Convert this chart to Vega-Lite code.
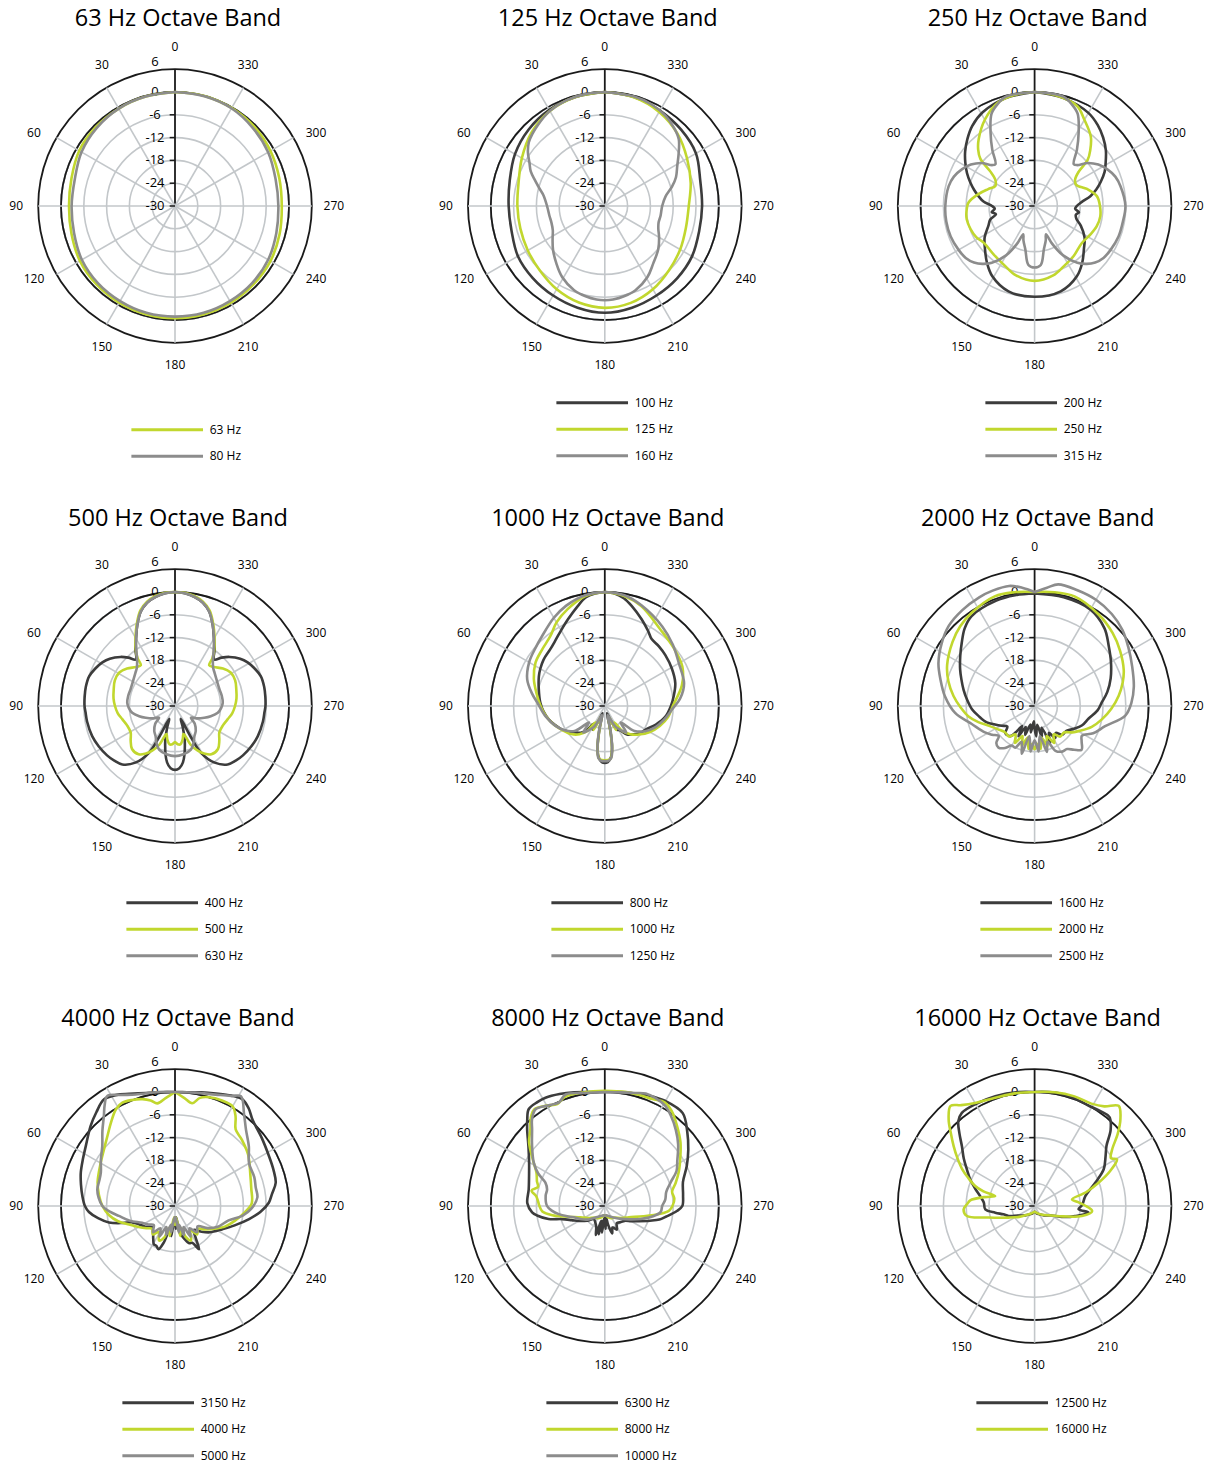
{
"$schema": "https://vega.github.io/schema/vega-lite/v6.json",
"background": "white",
"padding": {"left": 4, "top": 7, "right": 2, "bottom": 2},
"columns": 3,
"spacing": {"row": 158, "column": 87.8},
"bounds": "flush",
"resolve": {"scale": {"color": "independent", "x": "independent", "y": "independent"}},
"config": {
  "view": {"stroke": null},
  "title": {"font": "Open Sans", "fontSize": 23.5, "fontWeight": "normal", "color": "#000", "anchor": "middle", "frame": "group", "baseline": "alphabetic", "offset": 4.3, "dx": 3},
  "legend": {"orient": "none", "direction": "vertical", "symbolType": "stroke", "symbolSize": 5130, "symbolStrokeWidth": 3, "labelFont": "Open Sans", "labelFontSize": 12, "labelColor": "#000", "labelOffset": 5, "rowPadding": 12.5, "clipHeight": 14}
},
"datasets": {
  "lv": [{"v":-30,"t":"-30"},{"v":-24,"t":"-24"},{"v":-18,"t":"-18"},{"v":-12,"t":"-12"},{"v":-6,"t":"-6"},{"v":0,"t":"0"},{"v":6,"t":"6"}],
  "angles": [{"a":0,"t":"0"},{"a":30,"t":"30"},{"a":60,"t":"60"},{"a":90,"t":"90"},{"a":120,"t":"120"},{"a":150,"t":"150"},{"a":180,"t":"180"},{"a":210,"t":"210"},{"a":240,"t":"240"},{"a":270,"t":"270"},{"a":300,"t":"300"},{"a":330,"t":"330"}],
  "curves": [
    {"p":"63","s":"63 Hz","a":[0,15,30,45,60,75,90,105,120,135,150,165,180,195,210,225,240,255,270,285,300,315,330,345,360],"d":[0,-0.2,-0.4,-0.6,-0.9,-1.8,-2.1,-1.8,-1.1,-0.8,-0.6,-0.5,-0.5,-0.5,-0.6,-0.8,-1.0,-1.5,-1.9,-1.6,-1.0,-0.5,-0.2,0,0]},
    {"p":"63","s":"80 Hz","a":[0,15,30,45,60,75,90,105,120,135,150,165,180,195,210,225,240,255,270,285,300,315,330,345,360],"d":[0,-0.2,-0.4,-0.9,-1.6,-2.7,-2.8,-2.5,-1.7,-1.3,-1.1,-0.9,-0.9,-0.9,-1.1,-1.3,-1.7,-2.4,-2.8,-2.6,-1.7,-1.0,-0.3,-0.1,0]},

    {"p":"125","s":"100 Hz","a":[0,15,30,45,60,75,90,105,120,135,150,165,180,195,210,225,240,255,270,285,300,315,330,345,360],"d":[0,-0.3,-0.8,-1.6,-2.7,-4.1,-4.7,-4.6,-3.6,-3.2,-2.8,-2.3,-1.9,-2.3,-2.8,-3.1,-3.5,-4.3,-4.4,-4.0,-2.3,-1.6,-1.0,-0.3,0]},
    {"p":"125","s":"125 Hz","a":[0,15,30,45,60,75,90,105,120,135,150,165,180,195,210,225,240,255,270,285,300,315,330,345,360],"d":[0,-0.3,-1.1,-2.7,-4.8,-6.5,-7.0,-7.0,-6.6,-5.9,-4.7,-3.7,-3.2,-3.6,-4.7,-6.1,-7.1,-7.9,-7.9,-6.6,-5.0,-3.0,-1.4,-0.4,0]},
    {"p":"125","s":"160 Hz","a":[0,10,20,30,40,45,50,55,60,65,70,75,80,90,100,107,115,122,130,140,149,160,168,175,180,185,192,200,211,220,231,240,247,253,260,270,279,286,292,299,305,312,318,326,335,345,360],"d":[0,-0.1,-0.4,-1.1,-2.4,-3.1,-3.9,-5.3,-7.1,-8.5,-10.5,-12.2,-13.6,-14.8,-15.2,-15.3,-14.9,-13.8,-12.2,-10.2,-8.2,-6.4,-5.7,-5.3,-5.2,-5.3,-5.7,-6.4,-8.2,-10.2,-11.9,-13.5,-14.7,-15.2,-15.1,-14.9,-13.8,-11.6,-9.8,-8.2,-6.3,-3.8,-2.6,-1.4,-0.6,-0.2,0]},

    {"p":"250","s":"200 Hz","a":[0,15,29,38,45,52,58,64,70,75,80,85,90,94,98,102,107,113,122,131,140,149,163,180,197,211,220,229,238,247,253,258,262,266,270,275,280,285,290,296,301,308,315,322,330,345,360],"d":[0,-0.6,-1.8,-3.3,-5.0,-6.8,-8.5,-10.2,-12,-13.5,-15,-16.5,-18.8,-19.5,-18.6,-19.6,-17.8,-16.8,-14.5,-12.7,-10.5,-8.4,-6.5,-6.1,-6.5,-8.4,-10.5,-12.8,-14.5,-16.8,-18.5,-18.9,-18.2,-19.3,-18.9,-17.5,-15.1,-13.2,-11.5,-9.5,-8.2,-6.2,-4.5,-3.0,-1.7,-0.6,0]},
    {"p":"250","s":"250 Hz","a":[0,10,20,30,40,45,49,52,56,63,70,78,87,95,101,110,118,126,140,154,165,180,195,206,218,232,243,252,261,270,279,288,297,303,308,311,315,321,330,337,350,360],"d":[0,-0.3,-1.2,-3.8,-7.1,-9.0,-11.1,-15.2,-17.5,-18.4,-17.0,-14.9,-12.6,-12.0,-11.8,-12.1,-12.6,-13.5,-13.3,-12.4,-11.1,-10.3,-11.1,-12.4,-13.3,-14.2,-13.5,-12.8,-12.5,-12.8,-13.4,-15.5,-17.7,-17.3,-15.2,-11.5,-9.3,-6.5,-3.8,-1.4,-0.3,0]},
    {"p":"250","s":"315 Hz","a":[0,10,15,20,25,31,37,43,46,51,57,63,70,77,90,100,110,120,127,133,138,143,150,155,158,162,168,174,180,186,192,198,202,205,210,217,222,227,233,240,250,260,270,283,290,297,303,309,314,317,323,329,335,340,345,350,360],"d":[0,-0.1,-0.3,-1.5,-3.2,-7.5,-11.5,-14.9,-14.5,-12,-10,-8.6,-7.4,-6.8,-6.5,-6.4,-6.5,-6.9,-7.3,-8.2,-9.5,-11.3,-15,-19,-22,-20.5,-18.3,-14.4,-13.8,-14.4,-18.3,-20.5,-22,-19,-15,-11.3,-9.5,-8.2,-7.3,-6.9,-6.5,-6.4,-6.1,-6.8,-7.4,-8.6,-10,-12,-14.5,-14.9,-11.5,-7.5,-3.2,-1.5,-0.3,-0.1,0]},

    {"p":"500","s":"400 Hz","a":[0,5,10,15,20,25,30,35,40,44,48,54,59,65,71,78,84,90,94,100,110,118,126,132,138,145,151,153,156,160,165,172,176,180,184,188,195,200,204,207,209,215,222,228,234,242,250,260,266,270,276,282,289,295,301,306,312,316,320,325,330,335,340,345,350,355,360],"d":[0,-0.2,-0.8,-1.8,-3.6,-6.5,-9.5,-11.8,-14,-12.3,-10.7,-8.8,-7.7,-6.8,-6.1,-6.0,-6.1,-6.2,-6.4,-6.5,-6.8,-7.3,-7.9,-8.5,-9.3,-11.8,-16,-21,-26.3,-24,-20,-15,-13.6,-13.2,-13.6,-15,-20,-24,-26.3,-21,-16,-11.8,-9.3,-8.5,-7.9,-7.3,-6.8,-6.5,-6.4,-6.2,-6.1,-6.0,-6.1,-6.8,-7.7,-8.8,-10.7,-12.3,-14,-11.8,-9.5,-6.5,-3.6,-1.8,-0.8,-0.2,0]},
    {"p":"500","s":"500 Hz","a":[0,5,10,15,20,25,30,35,38,40,45,52,59,67,75,83,90,97,104,112,121,128,135,143,148,153,158,163,167,172,176,180,184,188,193,197,202,207,212,217,225,232,239,248,256,263,270,277,285,293,301,308,315,320,322,325,330,335,340,345,350,355,360],"d":[0,-0.1,-0.6,-1.6,-3.3,-6.2,-9.2,-12,-14,-16,-15.5,-14,-12.9,-12.8,-13.3,-13.7,-14.2,-14.8,-15.7,-16.4,-16.4,-15.2,-14,-14.1,-15.2,-16.8,-19,-22.3,-21,-19.8,-19.9,-20.5,-19.9,-19.8,-21,-22.3,-19,-16.8,-15.2,-14.1,-14,-15.2,-16.4,-16.4,-15.7,-14.8,-14.2,-13.7,-13.3,-12.8,-12.9,-14,-15.5,-16,-14,-12,-9.2,-6.2,-3.3,-1.6,-0.6,-0.1,0]},
    {"p":"500","s":"630 Hz","a":[0,5,10,15,20,25,30,35,40,45,50,60,69,78,86,92,99,106,112,120,126,132,140,147,154,160,170,180,190,200,206,213,220,228,234,240,248,254,261,268,274,282,291,300,310,315,320,325,330,335,340,345,350,355,360],"d":[0,-0.2,-0.8,-1.8,-3.6,-6.5,-9.5,-12.3,-14.5,-15.8,-16.4,-17.2,-17.5,-17.4,-17.4,-17.8,-18.6,-20.2,-21.7,-23.5,-24.8,-23,-21.5,-20.6,-19,-17.8,-17.1,-16.8,-17.1,-17.8,-19,-20.6,-21.5,-23,-24.8,-23.5,-21.7,-20.2,-18.6,-17.8,-17.4,-17.4,-17.5,-17.2,-16.4,-15.8,-14.5,-12.3,-9.5,-6.5,-3.6,-1.8,-0.8,-0.2,0]},

    {"p":"1000","s":"800 Hz","a":[0,5,10,15,23,30,37,44,53,60,66,75,87,95,103,111,119,126,132,138,143,148,153,158,163,167,170,173,177,180,183,187,190,193,197,202,207,212,218,224,232,240,250,260,270,278,288,299,310,318,325,330,337,345,350,355,360],"d":[0,-0.3,-1.0,-2.7,-5.2,-7.0,-8.4,-9.3,-9.8,-10.4,-11.0,-12.0,-13.0,-13.8,-14.8,-16.0,-17.2,-18.5,-19.6,-20.5,-22,-24.5,-23,-26,-28,-24,-19,-16.5,-15.2,-15.0,-15.2,-16.5,-19,-24,-28,-26,-23,-22.5,-20.5,-19.6,-18.3,-17.6,-15.7,-13.8,-12.6,-11.7,-10.5,-9.8,-9.2,-8.8,-8.5,-7.2,-5.2,-2.7,-1.2,-0.3,0]},
    {"p":"1000","s":"1000 Hz","a":[0,10,21,30,38,48,58,69,80,90,100,110,120,130,138,145,150,155,160,165,168,171,174,180,186,189,192,195,200,205,210,215,222,230,240,250,260,270,285,297,310,324,340,350,360],"d":[0,-0.6,-2.7,-4.6,-6.7,-7.8,-8.5,-10,-11.8,-13.1,-14.3,-15.7,-17.2,-18.5,-20,-22,-25,-23,-27,-26,-22,-18,-16,-15.7,-16,-18,-22,-26,-27,-23,-25,-22,-20,-18.3,-16.3,-14.6,-13.1,-12.1,-9,-7.1,-6.3,-5.1,-2.0,-0.6,0]},
    {"p":"1000","s":"1250 Hz","a":[0,10,21,30,42,50,60,71,80,87,100,112,122,130,136,141,147,153,158,163,167,170,173,177,180,183,187,190,193,197,202,207,213,219,224,230,238,247,257,267,276,286,300,312,324,340,350,360],"d":[0,-0.4,-1.7,-3.2,-5.3,-6.2,-7.0,-8.4,-10.5,-12.2,-14.2,-16,-17.8,-19.9,-24,-21,-22.5,-24,-26.5,-27.5,-23,-19,-16.2,-15.5,-15.5,-15.5,-16.2,-19,-23,-27.5,-26.5,-24,-22.5,-21,-24,-19.8,-17.5,-15.6,-14,-12.3,-10,-8.3,-7.5,-5.9,-4.2,-1.8,-0.4,0]},

    {"p":"2000","s":"1600 Hz","a":[0,10,20,35,42,49,56,64,70,77,85,93,100,109,115,121,127,133,141,145,148,152,157,162,167,172,177,180,183,188,193,198,203,208,213,218,224,232,240,248,257,266,273,281,290,300,309,318,330,345,360],"d":[-0.4,-0.4,-0.5,-1.1,-2.5,-4.6,-6.4,-8.2,-9.5,-10.8,-12.2,-13.5,-15,-16.7,-18.5,-19.9,-21,-19.5,-19.8,-22,-23.8,-21,-24,-22,-25,-23,-26,-24,-22,-25,-21.5,-24,-19.5,-22,-20,-21,-19.5,-19.4,-18,-16.5,-15.4,-13.4,-12.3,-10.5,-8.7,-6.8,-4.9,-2.5,-0.7,-0.4,-0.4]},
    {"p":"2000","s":"2000 Hz","a":[0,10,20,34,43,52,65,74,83,91,99,106,113,122,132,140,146,152,158,162,168,172,176,180,184,188,192,198,202,208,214,220,228,235,241,250,259,268,277,285,292,303,313,325,340,350,360],"d":[0,0.4,0.7,-0.4,-1.3,-2.6,-4.6,-6.4,-8.5,-10.5,-12.4,-14.6,-16.8,-18.5,-19.6,-19.5,-21,-19,-21.5,-19,-21.5,-18.6,-20,-18.6,-20,-18.6,-21.5,-19,-21.5,-19,-21,-19.5,-19.6,-17.9,-16.5,-14,-11.9,-9.8,-7.7,-6.0,-4.7,-3.2,-1.9,-0.6,0.7,0.4,0]},
    {"p":"2000","s":"2500 Hz","a":[0,6,12,20,27,37,47,56,66,74,84,95,106,118,124,130,134,139,145,150,155,160,165,170,175,180,185,190,195,200,205,211,217,222,227,233,238,245,254,264,272,281,292,302,311,320,330,340,349,354,360],"d":[0,1.3,2.3,2.3,2.1,1.6,0.9,-0.5,-2.3,-4.2,-6.3,-9,-12.8,-15.2,-16.5,-17.7,-16,-15.5,-16.5,-18,-17.9,-20,-17,-22,-18,-21,-18,-22,-17.5,-20,-17,-16,-15.8,-14.5,-13.1,-14.5,-15.3,-13,-10.7,-6,-4.5,-3.4,-2.3,-0.9,0.6,1.6,2.3,2.5,2.6,1.3,0]},

    {"p":"4000","s":"3150 Hz","a":[0,6,13,20,27,33.6,40,46.5,56,63,70.5,77,84,90,94,99,104,108,111,118,125,133,140,147,151,155,159,163,168,173,178,182,186,190,196,201,205,209,213,218,225,233,244,252,260,266,272,277,283,290,298,308,318,323,327.7,333,340,347,354,360],"d":[0,0.1,0.6,1.5,2.9,3.7,2.2,0.6,-1.7,-2.8,-3.7,-4.6,-5.5,-6.3,-7.3,-9.5,-12.1,-15.5,-18,-19.5,-20.5,-21.8,-21,-19.5,-18.5,-18.4,-17.8,-20,-24,-22,-27,-24,-27,-23,-21,-19.5,-19.3,-17,-20,-22,-20.5,-18.5,-16.1,-13.5,-10.2,-7.5,-5.3,-4.3,-2.8,-2.4,-2.0,-1.0,0.5,2.2,3.2,2.6,1.5,0.7,0.1,0]},
    {"p":"4000","s":"4000 Hz","a":[0,5,9.8,13,17,22,27,31.5,38,44,52,60,73,82,90,98,105,112,120,128,135,142,148,155,161,165,170,175,180,185,190,195,199,205,212,218,225,232,240,248,256,265,272,283,292,305,315,321.6,326,330,336,342.6,347,350.5,355,360],"d":[0,-1.5,-2.6,-1.5,-0.6,0.1,0.5,-0.2,-2.5,-4.4,-6.2,-7.4,-8.7,-9.8,-10.9,-12.5,-14.5,-17,-19,-20.5,-21.5,-20.5,-22,-20,-21.2,-24,-22,-27,-25,-27,-22,-24,-21.5,-20,-22.5,-20.5,-21.5,-20,-18,-15.7,-13.8,-11.5,-9.8,-9.4,-8.6,-6.5,-5.2,-4.3,-1.5,0.3,0.4,0,-0.8,-2.6,-1.5,0]},
    {"p":"4000","s":"5000 Hz","a":[0,8,19.4,26,31.6,35,38.3,44,50.5,58,65.8,72,78,84,90,95,100,108,117,125,132,140,147,153,158,163,168,172,177,180,183,188,192,197,202,207,213,220,228,236,244,255,262,268,276,283,290,300,309,317,323,329,333,340,350,360],"d":[0,0.3,1.1,2.5,4,2.3,0.2,-2.5,-5.2,-7,-8.6,-9.0,-9.1,-9.8,-10.9,-12.8,-15,-17.5,-20.3,-21.5,-22.5,-21,-23,-21,-24,-22,-25,-23,-27,-26,-27,-23,-25,-22,-24,-21,-23,-21,-22,-19.6,-17.5,-15.4,-12,-9.9,-8.2,-8.2,-7.8,-7.5,-5,-2.6,0.2,3.7,2.5,1.2,0.3,0]},

    {"p":"8000","s":"6300 Hz","a":[0,8,15,22,28.7,33,38.2,42,45.4,52,60,68,77.6,88,95,98,103,107,113,120,130,140,150,158,163,166,168,171,174,178,182,186,190,195,200,207,215,225,233,240,246,252,256,260,266,270,278,287,296,304,312,320,330,338,346,354,360],"d":[0,0.3,1.0,1.8,2.5,2.6,2.4,0.5,-1.3,-4.5,-7.0,-8.5,-9.5,-9.6,-10.8,-12,-14.8,-18.2,-20.5,-22.1,-24,-25.5,-25,-24,-22,-26,-22.4,-26,-23,-27,-24,-27,-25,-22.5,-24,-23,-24.5,-24,-23.5,-22,-20.2,-17.5,-15.2,-13.7,-11,-9.6,-9.2,-8.5,-6,-3.5,-0.8,1.9,1.9,1.3,0.6,0.2,0]},
    {"p":"8000","s":"8000 Hz","a":[0,10,20,25,30,36,40,44,50,58,64,70,74,78,82,86,90,95,100,106,115,125,140,155,165,175,185,195,205,220,235,245,255,262,266,270,276,282,288,295,302,310,318,325,330,336,343,350,360],"d":[0.3,0.4,0.6,-0.4,0.5,1.5,0.3,-1.8,-4.0,-7.8,-10,-11,-11.7,-10.3,-11.8,-12.4,-12.8,-13.5,-16,-19.8,-23,-24.5,-26,-26.5,-27,-27.5,-27.5,-27,-26.5,-26,-24.5,-23,-19.5,-15.2,-13,-12.2,-11.6,-11.9,-10.4,-8.5,-6.6,-4,-1.6,0.6,1.5,0.8,0.6,0.5,0.3]},
    {"p":"8000","s":"10000 Hz","a":[0,10,19.4,24,30,35.6,40,43.5,50,58.6,64,68.5,74,80,90,95,100,106,111.7,120,130,140,155,170,180,190,205,220,232,242,250,258,264,270,276,283,290,296,302,310,317,324,329,335,340,345,352,360],"d":[0,0.2,1.1,-0.2,0.5,1.3,-0.2,-2.2,-5,-8.1,-10.5,-13.2,-14.2,-14.2,-14.8,-16,-17.7,-20,-21.7,-23,-24.5,-26,-27,-27.5,-27.5,-27.5,-27,-26,-24.5,-22.5,-20,-17,-15.2,-14.9,-14.0,-13.4,-11.5,-9,-7.5,-4.8,-2.6,-0.5,0.8,1.4,1.5,0.8,0.2,0]},

    {"p":"16000","s":"12500 Hz","a":[0,8,19.7,30,38,42,46,50.5,56,61.5,68,74,80,86,94,99.6,105,111,120,135,150,165,180,195,210,225,240,250,256,263,266,271,281,291,298,305,310,315,320,325,331.6,340,350,360],"d":[0,0.3,0.7,1.0,1.1,0,-2.5,-5.2,-7.5,-9.7,-11.8,-13.8,-15.5,-16.6,-17,-19.5,-21.5,-22.7,-25,-26.5,-27.5,-28,-28.5,-28,-27.5,-26.5,-25,-21.5,-19,-15.7,-18.4,-17.5,-16.4,-12.9,-9.4,-7.2,-5.3,-1.7,0.6,0.4,0,0.2,0.3,0]},
    {"p":"16000","s":"16000 Hz","a":[0,10,20,30,36,40,44.8,49,53.5,58,63,67,71.4,74,76,80,85,88.6,92.7,98.4,104,114,125,140,160,180,200,220,240,250,258,265,270,275,280,285,290,295,299.5,302,306,311,315.3,320,325,331,340,350,360],"d":[0,0.1,0.3,1.3,2.8,4.4,2.1,-0.8,-3.5,-6,-8.6,-11,-13.5,-16,-19.3,-16.5,-13,-12.2,-11.3,-12,-17.5,-22.5,-25,-27,-28,-28.5,-28,-27,-25,-22,-17.3,-14.8,-16.5,-18.5,-20,-16,-12.1,-8,-5.1,-6.3,-4.8,-1,2.1,4.4,2.0,0.8,0.7,0.4,0]}
  ]
},
"concat": [
 {"title": "63 Hz Octave Band", "width": 342, "height": 342,
  "encoding": {"x": {"field": "x", "type": "quantitative", "scale": {"domain": [-45, 45], "nice": false, "zero": false}, "axis": null}, "y": {"field": "y", "type": "quantitative", "scale": {"domain": [-45, 45], "nice": false, "zero": false}, "axis": null}},
  "layer": [
   {"data": {"name": "lv"}, "transform": [{"filter": "datum.v > -30"}, {"calculate": "0", "as": "x"}, {"calculate": "0", "as": "y"}], "mark": {"type": "arc", "filled": false}, "encoding": {"radius": {"field": "v", "type": "quantitative", "stack": null, "scale": {"type": "linear", "domain": [-30, 6], "range": [0, 136.8], "zero": false}}, "stroke": {"condition": {"test": "datum.v == 6", "value": "#1a1a1a"}, "value": "#c3c7ca"}, "strokeWidth": {"condition": {"test": "datum.v == 6", "value": 1.8}, "value": 1.6}}},
   {"data": {"name": "angles"}, "transform": [{"calculate": "-36*sin(datum.a*PI/180)", "as": "x"}, {"calculate": "36*cos(datum.a*PI/180)", "as": "y"}], "mark": {"type": "rule"}, "encoding": {"x2": {"datum": 0}, "y2": {"datum": 0}, "stroke": {"condition": {"test": "datum.a == 0", "value": "#1a1a1a"}, "value": "#c3c7ca"}, "strokeWidth": {"condition": {"test": "datum.a == 0", "value": 1.8}, "value": 1.6}}},
   {"data": {"name": "lv"}, "transform": [{"filter": "datum.v <= 0"}, {"calculate": "0", "as": "x"}, {"calculate": "datum.v+30", "as": "y"}], "mark": {"type": "rule", "color": "#1a1a1a", "strokeWidth": 1.5}, "encoding": {"x2": {"datum": -1.4}}},
   {"data": {"name": "lv"}, "transform": [{"filter": "datum.v <= 0"}, {"calculate": "0", "as": "x"}, {"calculate": "datum.v+30", "as": "y"}], "mark": {"type": "text", "font": "Open Sans", "fontSize": 13, "align": "center", "baseline": "middle", "dx": -20, "color": "#000"}, "encoding": {"text": {"field": "t"}}},
   {"data": {"name": "lv"}, "transform": [{"filter": "datum.v == 6"}, {"calculate": "0", "as": "x"}, {"calculate": "datum.v+30", "as": "y"}], "mark": {"type": "text", "font": "Open Sans", "fontSize": 13, "align": "center", "baseline": "middle", "dx": -20, "dy": -7, "color": "#000"}, "encoding": {"text": {"field": "t"}}},
   {"data": {"name": "angles"}, "transform": [{"calculate": "(datum.a - 3*sin(4*datum.a*PI/180))*PI/180", "as": "f"}, {"calculate": "-41.8*sin(datum.f)", "as": "x"}, {"calculate": "41.8*cos(datum.f)", "as": "y"}], "mark": {"type": "text", "font": "Open Sans", "fontSize": 12, "align": "center", "baseline": "middle", "color": "#000"}, "encoding": {"text": {"field": "t"}}},
   {"data": {"name": "curves"}, "transform": [{"filter": "datum.p == '63'"}, {"flatten": ["a", "d"]}, {"calculate": "-(datum.d+30)*sin(datum.a*PI/180)", "as": "x"}, {"calculate": "(datum.d+30)*cos(datum.a*PI/180)", "as": "y"}], "mark": {"type": "line", "strokeWidth": 2.6, "interpolate": "catmull-rom"}, "encoding": {"order": {"field": "a", "type": "quantitative"}, "color": {"field": "s", "type": "nominal", "scale": {"domain": ["63 Hz", "80 Hz"], "range": ["#c1d72e", "#8c8c8c"]}, "legend": {"title": null, "legendX": 125.7, "legendY": 387.7}}}}
  ]},
 {"title": "125 Hz Octave Band", "width": 342, "height": 342,
  "encoding": {"x": {"field": "x", "type": "quantitative", "scale": {"domain": [-45, 45], "nice": false, "zero": false}, "axis": null}, "y": {"field": "y", "type": "quantitative", "scale": {"domain": [-45, 45], "nice": false, "zero": false}, "axis": null}},
  "layer": [
   {"data": {"name": "lv"}, "transform": [{"filter": "datum.v > -30"}, {"calculate": "0", "as": "x"}, {"calculate": "0", "as": "y"}], "mark": {"type": "arc", "filled": false}, "encoding": {"radius": {"field": "v", "type": "quantitative", "stack": null, "scale": {"type": "linear", "domain": [-30, 6], "range": [0, 136.8], "zero": false}}, "stroke": {"condition": {"test": "datum.v == 6", "value": "#1a1a1a"}, "value": "#c3c7ca"}, "strokeWidth": {"condition": {"test": "datum.v == 6", "value": 1.8}, "value": 1.6}}},
   {"data": {"name": "angles"}, "transform": [{"calculate": "-36*sin(datum.a*PI/180)", "as": "x"}, {"calculate": "36*cos(datum.a*PI/180)", "as": "y"}], "mark": {"type": "rule"}, "encoding": {"x2": {"datum": 0}, "y2": {"datum": 0}, "stroke": {"condition": {"test": "datum.a == 0", "value": "#1a1a1a"}, "value": "#c3c7ca"}, "strokeWidth": {"condition": {"test": "datum.a == 0", "value": 1.8}, "value": 1.6}}},
   {"data": {"name": "lv"}, "transform": [{"filter": "datum.v <= 0"}, {"calculate": "0", "as": "x"}, {"calculate": "datum.v+30", "as": "y"}], "mark": {"type": "rule", "color": "#1a1a1a", "strokeWidth": 1.5}, "encoding": {"x2": {"datum": -1.4}}},
   {"data": {"name": "lv"}, "transform": [{"filter": "datum.v <= 0"}, {"calculate": "0", "as": "x"}, {"calculate": "datum.v+30", "as": "y"}], "mark": {"type": "text", "font": "Open Sans", "fontSize": 13, "align": "center", "baseline": "middle", "dx": -20, "color": "#000"}, "encoding": {"text": {"field": "t"}}},
   {"data": {"name": "lv"}, "transform": [{"filter": "datum.v == 6"}, {"calculate": "0", "as": "x"}, {"calculate": "datum.v+30", "as": "y"}], "mark": {"type": "text", "font": "Open Sans", "fontSize": 13, "align": "center", "baseline": "middle", "dx": -20, "dy": -7, "color": "#000"}, "encoding": {"text": {"field": "t"}}},
   {"data": {"name": "angles"}, "transform": [{"calculate": "(datum.a - 3*sin(4*datum.a*PI/180))*PI/180", "as": "f"}, {"calculate": "-41.8*sin(datum.f)", "as": "x"}, {"calculate": "41.8*cos(datum.f)", "as": "y"}], "mark": {"type": "text", "font": "Open Sans", "fontSize": 12, "align": "center", "baseline": "middle", "color": "#000"}, "encoding": {"text": {"field": "t"}}},
   {"data": {"name": "curves"}, "transform": [{"filter": "datum.p == '125'"}, {"flatten": ["a", "d"]}, {"calculate": "-(datum.d+30)*sin(datum.a*PI/180)", "as": "x"}, {"calculate": "(datum.d+30)*cos(datum.a*PI/180)", "as": "y"}], "mark": {"type": "line", "strokeWidth": 2.6, "interpolate": "catmull-rom"}, "encoding": {"order": {"field": "a", "type": "quantitative"}, "color": {"field": "s", "type": "nominal", "scale": {"domain": ["100 Hz", "125 Hz", "160 Hz"], "range": ["#3c3c3c", "#c1d72e", "#8c8c8c"]}, "legend": {"title": null, "legendX": 120.9, "legendY": 360.7}}}}
  ]},
 {"title": "250 Hz Octave Band", "width": 342, "height": 342,
  "encoding": {"x": {"field": "x", "type": "quantitative", "scale": {"domain": [-45, 45], "nice": false, "zero": false}, "axis": null}, "y": {"field": "y", "type": "quantitative", "scale": {"domain": [-45, 45], "nice": false, "zero": false}, "axis": null}},
  "layer": [
   {"data": {"name": "lv"}, "transform": [{"filter": "datum.v > -30"}, {"calculate": "0", "as": "x"}, {"calculate": "0", "as": "y"}], "mark": {"type": "arc", "filled": false}, "encoding": {"radius": {"field": "v", "type": "quantitative", "stack": null, "scale": {"type": "linear", "domain": [-30, 6], "range": [0, 136.8], "zero": false}}, "stroke": {"condition": {"test": "datum.v == 6", "value": "#1a1a1a"}, "value": "#c3c7ca"}, "strokeWidth": {"condition": {"test": "datum.v == 6", "value": 1.8}, "value": 1.6}}},
   {"data": {"name": "angles"}, "transform": [{"calculate": "-36*sin(datum.a*PI/180)", "as": "x"}, {"calculate": "36*cos(datum.a*PI/180)", "as": "y"}], "mark": {"type": "rule"}, "encoding": {"x2": {"datum": 0}, "y2": {"datum": 0}, "stroke": {"condition": {"test": "datum.a == 0", "value": "#1a1a1a"}, "value": "#c3c7ca"}, "strokeWidth": {"condition": {"test": "datum.a == 0", "value": 1.8}, "value": 1.6}}},
   {"data": {"name": "lv"}, "transform": [{"filter": "datum.v <= 0"}, {"calculate": "0", "as": "x"}, {"calculate": "datum.v+30", "as": "y"}], "mark": {"type": "rule", "color": "#1a1a1a", "strokeWidth": 1.5}, "encoding": {"x2": {"datum": -1.4}}},
   {"data": {"name": "lv"}, "transform": [{"filter": "datum.v <= 0"}, {"calculate": "0", "as": "x"}, {"calculate": "datum.v+30", "as": "y"}], "mark": {"type": "text", "font": "Open Sans", "fontSize": 13, "align": "center", "baseline": "middle", "dx": -20, "color": "#000"}, "encoding": {"text": {"field": "t"}}},
   {"data": {"name": "lv"}, "transform": [{"filter": "datum.v == 6"}, {"calculate": "0", "as": "x"}, {"calculate": "datum.v+30", "as": "y"}], "mark": {"type": "text", "font": "Open Sans", "fontSize": 13, "align": "center", "baseline": "middle", "dx": -20, "dy": -7, "color": "#000"}, "encoding": {"text": {"field": "t"}}},
   {"data": {"name": "angles"}, "transform": [{"calculate": "(datum.a - 3*sin(4*datum.a*PI/180))*PI/180", "as": "f"}, {"calculate": "-41.8*sin(datum.f)", "as": "x"}, {"calculate": "41.8*cos(datum.f)", "as": "y"}], "mark": {"type": "text", "font": "Open Sans", "fontSize": 12, "align": "center", "baseline": "middle", "color": "#000"}, "encoding": {"text": {"field": "t"}}},
   {"data": {"name": "curves"}, "transform": [{"filter": "datum.p == '250'"}, {"flatten": ["a", "d"]}, {"calculate": "-(datum.d+30)*sin(datum.a*PI/180)", "as": "x"}, {"calculate": "(datum.d+30)*cos(datum.a*PI/180)", "as": "y"}], "mark": {"type": "line", "strokeWidth": 2.6, "interpolate": "catmull-rom"}, "encoding": {"order": {"field": "a", "type": "quantitative"}, "color": {"field": "s", "type": "nominal", "scale": {"domain": ["200 Hz", "250 Hz", "315 Hz"], "range": ["#3c3c3c", "#c1d72e", "#8c8c8c"]}, "legend": {"title": null, "legendX": 120.1, "legendY": 360.7}}}}
  ]},
 {"title": "500 Hz Octave Band", "width": 342, "height": 342,
  "encoding": {"x": {"field": "x", "type": "quantitative", "scale": {"domain": [-45, 45], "nice": false, "zero": false}, "axis": null}, "y": {"field": "y", "type": "quantitative", "scale": {"domain": [-45, 45], "nice": false, "zero": false}, "axis": null}},
  "layer": [
   {"data": {"name": "lv"}, "transform": [{"filter": "datum.v > -30"}, {"calculate": "0", "as": "x"}, {"calculate": "0", "as": "y"}], "mark": {"type": "arc", "filled": false}, "encoding": {"radius": {"field": "v", "type": "quantitative", "stack": null, "scale": {"type": "linear", "domain": [-30, 6], "range": [0, 136.8], "zero": false}}, "stroke": {"condition": {"test": "datum.v == 6", "value": "#1a1a1a"}, "value": "#c3c7ca"}, "strokeWidth": {"condition": {"test": "datum.v == 6", "value": 1.8}, "value": 1.6}}},
   {"data": {"name": "angles"}, "transform": [{"calculate": "-36*sin(datum.a*PI/180)", "as": "x"}, {"calculate": "36*cos(datum.a*PI/180)", "as": "y"}], "mark": {"type": "rule"}, "encoding": {"x2": {"datum": 0}, "y2": {"datum": 0}, "stroke": {"condition": {"test": "datum.a == 0", "value": "#1a1a1a"}, "value": "#c3c7ca"}, "strokeWidth": {"condition": {"test": "datum.a == 0", "value": 1.8}, "value": 1.6}}},
   {"data": {"name": "lv"}, "transform": [{"filter": "datum.v <= 0"}, {"calculate": "0", "as": "x"}, {"calculate": "datum.v+30", "as": "y"}], "mark": {"type": "rule", "color": "#1a1a1a", "strokeWidth": 1.5}, "encoding": {"x2": {"datum": -1.4}}},
   {"data": {"name": "lv"}, "transform": [{"filter": "datum.v <= 0"}, {"calculate": "0", "as": "x"}, {"calculate": "datum.v+30", "as": "y"}], "mark": {"type": "text", "font": "Open Sans", "fontSize": 13, "align": "center", "baseline": "middle", "dx": -20, "color": "#000"}, "encoding": {"text": {"field": "t"}}},
   {"data": {"name": "lv"}, "transform": [{"filter": "datum.v == 6"}, {"calculate": "0", "as": "x"}, {"calculate": "datum.v+30", "as": "y"}], "mark": {"type": "text", "font": "Open Sans", "fontSize": 13, "align": "center", "baseline": "middle", "dx": -20, "dy": -7, "color": "#000"}, "encoding": {"text": {"field": "t"}}},
   {"data": {"name": "angles"}, "transform": [{"calculate": "(datum.a - 3*sin(4*datum.a*PI/180))*PI/180", "as": "f"}, {"calculate": "-41.8*sin(datum.f)", "as": "x"}, {"calculate": "41.8*cos(datum.f)", "as": "y"}], "mark": {"type": "text", "font": "Open Sans", "fontSize": 12, "align": "center", "baseline": "middle", "color": "#000"}, "encoding": {"text": {"field": "t"}}},
   {"data": {"name": "curves"}, "transform": [{"filter": "datum.p == '500'"}, {"flatten": ["a", "d"]}, {"calculate": "-(datum.d+30)*sin(datum.a*PI/180)", "as": "x"}, {"calculate": "(datum.d+30)*cos(datum.a*PI/180)", "as": "y"}], "mark": {"type": "line", "strokeWidth": 2.6, "interpolate": "catmull-rom"}, "encoding": {"order": {"field": "a", "type": "quantitative"}, "color": {"field": "s", "type": "nominal", "scale": {"domain": ["400 Hz", "500 Hz", "630 Hz"], "range": ["#3c3c3c", "#c1d72e", "#8c8c8c"]}, "legend": {"title": null, "legendX": 120.7, "legendY": 360.7}}}}
  ]},
 {"title": "1000 Hz Octave Band", "width": 342, "height": 342,
  "encoding": {"x": {"field": "x", "type": "quantitative", "scale": {"domain": [-45, 45], "nice": false, "zero": false}, "axis": null}, "y": {"field": "y", "type": "quantitative", "scale": {"domain": [-45, 45], "nice": false, "zero": false}, "axis": null}},
  "layer": [
   {"data": {"name": "lv"}, "transform": [{"filter": "datum.v > -30"}, {"calculate": "0", "as": "x"}, {"calculate": "0", "as": "y"}], "mark": {"type": "arc", "filled": false}, "encoding": {"radius": {"field": "v", "type": "quantitative", "stack": null, "scale": {"type": "linear", "domain": [-30, 6], "range": [0, 136.8], "zero": false}}, "stroke": {"condition": {"test": "datum.v == 6", "value": "#1a1a1a"}, "value": "#c3c7ca"}, "strokeWidth": {"condition": {"test": "datum.v == 6", "value": 1.8}, "value": 1.6}}},
   {"data": {"name": "angles"}, "transform": [{"calculate": "-36*sin(datum.a*PI/180)", "as": "x"}, {"calculate": "36*cos(datum.a*PI/180)", "as": "y"}], "mark": {"type": "rule"}, "encoding": {"x2": {"datum": 0}, "y2": {"datum": 0}, "stroke": {"condition": {"test": "datum.a == 0", "value": "#1a1a1a"}, "value": "#c3c7ca"}, "strokeWidth": {"condition": {"test": "datum.a == 0", "value": 1.8}, "value": 1.6}}},
   {"data": {"name": "lv"}, "transform": [{"filter": "datum.v <= 0"}, {"calculate": "0", "as": "x"}, {"calculate": "datum.v+30", "as": "y"}], "mark": {"type": "rule", "color": "#1a1a1a", "strokeWidth": 1.5}, "encoding": {"x2": {"datum": -1.4}}},
   {"data": {"name": "lv"}, "transform": [{"filter": "datum.v <= 0"}, {"calculate": "0", "as": "x"}, {"calculate": "datum.v+30", "as": "y"}], "mark": {"type": "text", "font": "Open Sans", "fontSize": 13, "align": "center", "baseline": "middle", "dx": -20, "color": "#000"}, "encoding": {"text": {"field": "t"}}},
   {"data": {"name": "lv"}, "transform": [{"filter": "datum.v == 6"}, {"calculate": "0", "as": "x"}, {"calculate": "datum.v+30", "as": "y"}], "mark": {"type": "text", "font": "Open Sans", "fontSize": 13, "align": "center", "baseline": "middle", "dx": -20, "dy": -7, "color": "#000"}, "encoding": {"text": {"field": "t"}}},
   {"data": {"name": "angles"}, "transform": [{"calculate": "(datum.a - 3*sin(4*datum.a*PI/180))*PI/180", "as": "f"}, {"calculate": "-41.8*sin(datum.f)", "as": "x"}, {"calculate": "41.8*cos(datum.f)", "as": "y"}], "mark": {"type": "text", "font": "Open Sans", "fontSize": 12, "align": "center", "baseline": "middle", "color": "#000"}, "encoding": {"text": {"field": "t"}}},
   {"data": {"name": "curves"}, "transform": [{"filter": "datum.p == '1000'"}, {"flatten": ["a", "d"]}, {"calculate": "-(datum.d+30)*sin(datum.a*PI/180)", "as": "x"}, {"calculate": "(datum.d+30)*cos(datum.a*PI/180)", "as": "y"}], "mark": {"type": "line", "strokeWidth": 2.6, "interpolate": "catmull-rom"}, "encoding": {"order": {"field": "a", "type": "quantitative"}, "color": {"field": "s", "type": "nominal", "scale": {"domain": ["800 Hz", "1000 Hz", "1250 Hz"], "range": ["#3c3c3c", "#c1d72e", "#8c8c8c"]}, "legend": {"title": null, "legendX": 115.9, "legendY": 360.7}}}}
  ]},
 {"title": "2000 Hz Octave Band", "width": 342, "height": 342,
  "encoding": {"x": {"field": "x", "type": "quantitative", "scale": {"domain": [-45, 45], "nice": false, "zero": false}, "axis": null}, "y": {"field": "y", "type": "quantitative", "scale": {"domain": [-45, 45], "nice": false, "zero": false}, "axis": null}},
  "layer": [
   {"data": {"name": "lv"}, "transform": [{"filter": "datum.v > -30"}, {"calculate": "0", "as": "x"}, {"calculate": "0", "as": "y"}], "mark": {"type": "arc", "filled": false}, "encoding": {"radius": {"field": "v", "type": "quantitative", "stack": null, "scale": {"type": "linear", "domain": [-30, 6], "range": [0, 136.8], "zero": false}}, "stroke": {"condition": {"test": "datum.v == 6", "value": "#1a1a1a"}, "value": "#c3c7ca"}, "strokeWidth": {"condition": {"test": "datum.v == 6", "value": 1.8}, "value": 1.6}}},
   {"data": {"name": "angles"}, "transform": [{"calculate": "-36*sin(datum.a*PI/180)", "as": "x"}, {"calculate": "36*cos(datum.a*PI/180)", "as": "y"}], "mark": {"type": "rule"}, "encoding": {"x2": {"datum": 0}, "y2": {"datum": 0}, "stroke": {"condition": {"test": "datum.a == 0", "value": "#1a1a1a"}, "value": "#c3c7ca"}, "strokeWidth": {"condition": {"test": "datum.a == 0", "value": 1.8}, "value": 1.6}}},
   {"data": {"name": "lv"}, "transform": [{"filter": "datum.v <= 0"}, {"calculate": "0", "as": "x"}, {"calculate": "datum.v+30", "as": "y"}], "mark": {"type": "rule", "color": "#1a1a1a", "strokeWidth": 1.5}, "encoding": {"x2": {"datum": -1.4}}},
   {"data": {"name": "lv"}, "transform": [{"filter": "datum.v <= 0"}, {"calculate": "0", "as": "x"}, {"calculate": "datum.v+30", "as": "y"}], "mark": {"type": "text", "font": "Open Sans", "fontSize": 13, "align": "center", "baseline": "middle", "dx": -20, "color": "#000"}, "encoding": {"text": {"field": "t"}}},
   {"data": {"name": "lv"}, "transform": [{"filter": "datum.v == 6"}, {"calculate": "0", "as": "x"}, {"calculate": "datum.v+30", "as": "y"}], "mark": {"type": "text", "font": "Open Sans", "fontSize": 13, "align": "center", "baseline": "middle", "dx": -20, "dy": -7, "color": "#000"}, "encoding": {"text": {"field": "t"}}},
   {"data": {"name": "angles"}, "transform": [{"calculate": "(datum.a - 3*sin(4*datum.a*PI/180))*PI/180", "as": "f"}, {"calculate": "-41.8*sin(datum.f)", "as": "x"}, {"calculate": "41.8*cos(datum.f)", "as": "y"}], "mark": {"type": "text", "font": "Open Sans", "fontSize": 12, "align": "center", "baseline": "middle", "color": "#000"}, "encoding": {"text": {"field": "t"}}},
   {"data": {"name": "curves"}, "transform": [{"filter": "datum.p == '2000'"}, {"flatten": ["a", "d"]}, {"calculate": "-(datum.d+30)*sin(datum.a*PI/180)", "as": "x"}, {"calculate": "(datum.d+30)*cos(datum.a*PI/180)", "as": "y"}], "mark": {"type": "line", "strokeWidth": 2.6, "interpolate": "catmull-rom"}, "encoding": {"order": {"field": "a", "type": "quantitative"}, "color": {"field": "s", "type": "nominal", "scale": {"domain": ["1600 Hz", "2000 Hz", "2500 Hz"], "range": ["#3c3c3c", "#c1d72e", "#8c8c8c"]}, "legend": {"title": null, "legendX": 115.1, "legendY": 360.7}}}}
  ]},
 {"title": "4000 Hz Octave Band", "width": 342, "height": 342,
  "encoding": {"x": {"field": "x", "type": "quantitative", "scale": {"domain": [-45, 45], "nice": false, "zero": false}, "axis": null}, "y": {"field": "y", "type": "quantitative", "scale": {"domain": [-45, 45], "nice": false, "zero": false}, "axis": null}},
  "layer": [
   {"data": {"name": "lv"}, "transform": [{"filter": "datum.v > -30"}, {"calculate": "0", "as": "x"}, {"calculate": "0", "as": "y"}], "mark": {"type": "arc", "filled": false}, "encoding": {"radius": {"field": "v", "type": "quantitative", "stack": null, "scale": {"type": "linear", "domain": [-30, 6], "range": [0, 136.8], "zero": false}}, "stroke": {"condition": {"test": "datum.v == 6", "value": "#1a1a1a"}, "value": "#c3c7ca"}, "strokeWidth": {"condition": {"test": "datum.v == 6", "value": 1.8}, "value": 1.6}}},
   {"data": {"name": "angles"}, "transform": [{"calculate": "-36*sin(datum.a*PI/180)", "as": "x"}, {"calculate": "36*cos(datum.a*PI/180)", "as": "y"}], "mark": {"type": "rule"}, "encoding": {"x2": {"datum": 0}, "y2": {"datum": 0}, "stroke": {"condition": {"test": "datum.a == 0", "value": "#1a1a1a"}, "value": "#c3c7ca"}, "strokeWidth": {"condition": {"test": "datum.a == 0", "value": 1.8}, "value": 1.6}}},
   {"data": {"name": "lv"}, "transform": [{"filter": "datum.v <= 0"}, {"calculate": "0", "as": "x"}, {"calculate": "datum.v+30", "as": "y"}], "mark": {"type": "rule", "color": "#1a1a1a", "strokeWidth": 1.5}, "encoding": {"x2": {"datum": -1.4}}},
   {"data": {"name": "lv"}, "transform": [{"filter": "datum.v <= 0"}, {"calculate": "0", "as": "x"}, {"calculate": "datum.v+30", "as": "y"}], "mark": {"type": "text", "font": "Open Sans", "fontSize": 13, "align": "center", "baseline": "middle", "dx": -20, "color": "#000"}, "encoding": {"text": {"field": "t"}}},
   {"data": {"name": "lv"}, "transform": [{"filter": "datum.v == 6"}, {"calculate": "0", "as": "x"}, {"calculate": "datum.v+30", "as": "y"}], "mark": {"type": "text", "font": "Open Sans", "fontSize": 13, "align": "center", "baseline": "middle", "dx": -20, "dy": -7, "color": "#000"}, "encoding": {"text": {"field": "t"}}},
   {"data": {"name": "angles"}, "transform": [{"calculate": "(datum.a - 3*sin(4*datum.a*PI/180))*PI/180", "as": "f"}, {"calculate": "-41.8*sin(datum.f)", "as": "x"}, {"calculate": "41.8*cos(datum.f)", "as": "y"}], "mark": {"type": "text", "font": "Open Sans", "fontSize": 12, "align": "center", "baseline": "middle", "color": "#000"}, "encoding": {"text": {"field": "t"}}},
   {"data": {"name": "curves"}, "transform": [{"filter": "datum.p == '4000'"}, {"flatten": ["a", "d"]}, {"calculate": "-(datum.d+30)*sin(datum.a*PI/180)", "as": "x"}, {"calculate": "(datum.d+30)*cos(datum.a*PI/180)", "as": "y"}], "mark": {"type": "line", "strokeWidth": 2.6, "interpolate": "catmull-rom"}, "encoding": {"order": {"field": "a", "type": "quantitative"}, "color": {"field": "s", "type": "nominal", "scale": {"domain": ["3150 Hz", "4000 Hz", "5000 Hz"], "range": ["#3c3c3c", "#c1d72e", "#8c8c8c"]}, "legend": {"title": null, "legendX": 116.7, "legendY": 360.7}}}}
  ]},
 {"title": "8000 Hz Octave Band", "width": 342, "height": 342,
  "encoding": {"x": {"field": "x", "type": "quantitative", "scale": {"domain": [-45, 45], "nice": false, "zero": false}, "axis": null}, "y": {"field": "y", "type": "quantitative", "scale": {"domain": [-45, 45], "nice": false, "zero": false}, "axis": null}},
  "layer": [
   {"data": {"name": "lv"}, "transform": [{"filter": "datum.v > -30"}, {"calculate": "0", "as": "x"}, {"calculate": "0", "as": "y"}], "mark": {"type": "arc", "filled": false}, "encoding": {"radius": {"field": "v", "type": "quantitative", "stack": null, "scale": {"type": "linear", "domain": [-30, 6], "range": [0, 136.8], "zero": false}}, "stroke": {"condition": {"test": "datum.v == 6", "value": "#1a1a1a"}, "value": "#c3c7ca"}, "strokeWidth": {"condition": {"test": "datum.v == 6", "value": 1.8}, "value": 1.6}}},
   {"data": {"name": "angles"}, "transform": [{"calculate": "-36*sin(datum.a*PI/180)", "as": "x"}, {"calculate": "36*cos(datum.a*PI/180)", "as": "y"}], "mark": {"type": "rule"}, "encoding": {"x2": {"datum": 0}, "y2": {"datum": 0}, "stroke": {"condition": {"test": "datum.a == 0", "value": "#1a1a1a"}, "value": "#c3c7ca"}, "strokeWidth": {"condition": {"test": "datum.a == 0", "value": 1.8}, "value": 1.6}}},
   {"data": {"name": "lv"}, "transform": [{"filter": "datum.v <= 0"}, {"calculate": "0", "as": "x"}, {"calculate": "datum.v+30", "as": "y"}], "mark": {"type": "rule", "color": "#1a1a1a", "strokeWidth": 1.5}, "encoding": {"x2": {"datum": -1.4}}},
   {"data": {"name": "lv"}, "transform": [{"filter": "datum.v <= 0"}, {"calculate": "0", "as": "x"}, {"calculate": "datum.v+30", "as": "y"}], "mark": {"type": "text", "font": "Open Sans", "fontSize": 13, "align": "center", "baseline": "middle", "dx": -20, "color": "#000"}, "encoding": {"text": {"field": "t"}}},
   {"data": {"name": "lv"}, "transform": [{"filter": "datum.v == 6"}, {"calculate": "0", "as": "x"}, {"calculate": "datum.v+30", "as": "y"}], "mark": {"type": "text", "font": "Open Sans", "fontSize": 13, "align": "center", "baseline": "middle", "dx": -20, "dy": -7, "color": "#000"}, "encoding": {"text": {"field": "t"}}},
   {"data": {"name": "angles"}, "transform": [{"calculate": "(datum.a - 3*sin(4*datum.a*PI/180))*PI/180", "as": "f"}, {"calculate": "-41.8*sin(datum.f)", "as": "x"}, {"calculate": "41.8*cos(datum.f)", "as": "y"}], "mark": {"type": "text", "font": "Open Sans", "fontSize": 12, "align": "center", "baseline": "middle", "color": "#000"}, "encoding": {"text": {"field": "t"}}},
   {"data": {"name": "curves"}, "transform": [{"filter": "datum.p == '8000'"}, {"flatten": ["a", "d"]}, {"calculate": "-(datum.d+30)*sin(datum.a*PI/180)", "as": "x"}, {"calculate": "(datum.d+30)*cos(datum.a*PI/180)", "as": "y"}], "mark": {"type": "line", "strokeWidth": 2.6, "interpolate": "catmull-rom"}, "encoding": {"order": {"field": "a", "type": "quantitative"}, "color": {"field": "s", "type": "nominal", "scale": {"domain": ["6300 Hz", "8000 Hz", "10000 Hz"], "range": ["#3c3c3c", "#c1d72e", "#8c8c8c"]}, "legend": {"title": null, "legendX": 110.9, "legendY": 360.7}}}}
  ]},
 {"title": "16000 Hz Octave Band", "width": 342, "height": 342,
  "encoding": {"x": {"field": "x", "type": "quantitative", "scale": {"domain": [-45, 45], "nice": false, "zero": false}, "axis": null}, "y": {"field": "y", "type": "quantitative", "scale": {"domain": [-45, 45], "nice": false, "zero": false}, "axis": null}},
  "layer": [
   {"data": {"name": "lv"}, "transform": [{"filter": "datum.v > -30"}, {"calculate": "0", "as": "x"}, {"calculate": "0", "as": "y"}], "mark": {"type": "arc", "filled": false}, "encoding": {"radius": {"field": "v", "type": "quantitative", "stack": null, "scale": {"type": "linear", "domain": [-30, 6], "range": [0, 136.8], "zero": false}}, "stroke": {"condition": {"test": "datum.v == 6", "value": "#1a1a1a"}, "value": "#c3c7ca"}, "strokeWidth": {"condition": {"test": "datum.v == 6", "value": 1.8}, "value": 1.6}}},
   {"data": {"name": "angles"}, "transform": [{"calculate": "-36*sin(datum.a*PI/180)", "as": "x"}, {"calculate": "36*cos(datum.a*PI/180)", "as": "y"}], "mark": {"type": "rule"}, "encoding": {"x2": {"datum": 0}, "y2": {"datum": 0}, "stroke": {"condition": {"test": "datum.a == 0", "value": "#1a1a1a"}, "value": "#c3c7ca"}, "strokeWidth": {"condition": {"test": "datum.a == 0", "value": 1.8}, "value": 1.6}}},
   {"data": {"name": "lv"}, "transform": [{"filter": "datum.v <= 0"}, {"calculate": "0", "as": "x"}, {"calculate": "datum.v+30", "as": "y"}], "mark": {"type": "rule", "color": "#1a1a1a", "strokeWidth": 1.5}, "encoding": {"x2": {"datum": -1.4}}},
   {"data": {"name": "lv"}, "transform": [{"filter": "datum.v <= 0"}, {"calculate": "0", "as": "x"}, {"calculate": "datum.v+30", "as": "y"}], "mark": {"type": "text", "font": "Open Sans", "fontSize": 13, "align": "center", "baseline": "middle", "dx": -20, "color": "#000"}, "encoding": {"text": {"field": "t"}}},
   {"data": {"name": "lv"}, "transform": [{"filter": "datum.v == 6"}, {"calculate": "0", "as": "x"}, {"calculate": "datum.v+30", "as": "y"}], "mark": {"type": "text", "font": "Open Sans", "fontSize": 13, "align": "center", "baseline": "middle", "dx": -20, "dy": -7, "color": "#000"}, "encoding": {"text": {"field": "t"}}},
   {"data": {"name": "angles"}, "transform": [{"calculate": "(datum.a - 3*sin(4*datum.a*PI/180))*PI/180", "as": "f"}, {"calculate": "-41.8*sin(datum.f)", "as": "x"}, {"calculate": "41.8*cos(datum.f)", "as": "y"}], "mark": {"type": "text", "font": "Open Sans", "fontSize": 12, "align": "center", "baseline": "middle", "color": "#000"}, "encoding": {"text": {"field": "t"}}},
   {"data": {"name": "curves"}, "transform": [{"filter": "datum.p == '16000'"}, {"flatten": ["a", "d"]}, {"calculate": "-(datum.d+30)*sin(datum.a*PI/180)", "as": "x"}, {"calculate": "(datum.d+30)*cos(datum.a*PI/180)", "as": "y"}], "mark": {"type": "line", "strokeWidth": 2.6, "interpolate": "catmull-rom"}, "encoding": {"order": {"field": "a", "type": "quantitative"}, "color": {"field": "s", "type": "nominal", "scale": {"domain": ["12500 Hz", "16000 Hz"], "range": ["#3c3c3c", "#c1d72e"]}, "legend": {"title": null, "legendX": 111.1, "legendY": 360.7}}}}
  ]}
]
}
